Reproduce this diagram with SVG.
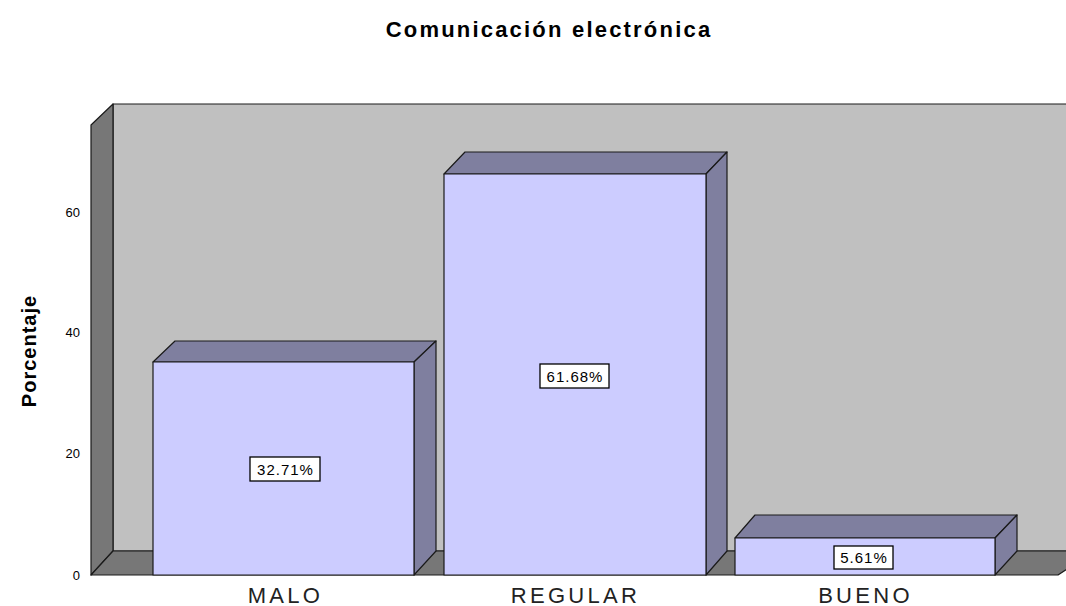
<svg xmlns="http://www.w3.org/2000/svg" width="1066" height="606" viewBox="0 0 1066 606">
<style>
.edge{stroke:#1a1a1a;stroke-width:1.2;stroke-linejoin:round}
.wall{fill:#c0c0c0}
.dark{fill:#777777}
.front{fill:#ccccff}
.shade{fill:#7f7f9f}
.tick{font-family:"Liberation Sans",Arial,sans-serif;font-size:13px;fill:#000}
.cat{font-family:"Liberation Sans",Arial,sans-serif;font-size:22px;letter-spacing:3.3px;fill:#222}
.val{font-family:"Liberation Sans",Arial,sans-serif;font-size:15px;letter-spacing:1px;fill:#000}
.box{fill:#fff;stroke:#000;stroke-width:1.3}
</style>
<rect width="1066" height="606" fill="#fff"/>
<text x="549" y="37" text-anchor="middle" font-family="Liberation Sans,Arial,sans-serif" font-weight="bold" font-size="22" letter-spacing="2.2" fill="#000">Comunicación electrónica</text>
<g id="frame">
<polygon class="wall edge" points="113,104 1070,104 1070,551 113,551"/>
<polygon class="dark edge" points="91,125 113,104 113,551 91,575"/>
<polygon class="dark edge" points="91,575 113,551 1070,551 1070,567 1058,575"/>
</g>
<g id="axis">
<text class="tick" x="80" y="217" text-anchor="end">60</text>
<text class="tick" x="80" y="337" text-anchor="end">40</text>
<text class="tick" x="80" y="458" text-anchor="end">20</text>
<text class="tick" x="80" y="580" text-anchor="end">0</text>
<text transform="translate(36,351) rotate(-90)" text-anchor="middle" font-family="Liberation Sans,Arial,sans-serif" font-weight="bold" font-size="20" letter-spacing="1" fill="#000">Porcentaje</text>
</g>
<g id="bar-malo">
<polygon class="shade edge" points="153,362 175,341 436,341 414,362"/>
<polygon class="shade edge" points="414,362 436,341 436,551 414,575"/>
<rect class="front edge" x="153" y="362" width="261" height="213"/>
<rect class="box" x="250" y="457" width="70" height="24"/>
<text class="val" x="285.500" y="474.500" text-anchor="middle">32.71%</text>
<text class="cat" x="285.500" y="603" text-anchor="middle">MALO</text>
</g>
<g id="bar-regular">
<polygon class="shade edge" points="444,174 465,152 727,152 706,174"/>
<polygon class="shade edge" points="706,174 727,152 727,551 706,575"/>
<rect class="front edge" x="444" y="174" width="262" height="401"/>
<rect class="box" x="540" y="364" width="69" height="24"/>
<text class="val" x="575" y="381.500" text-anchor="middle">61.68%</text>
<text class="cat" x="575.500" y="603" text-anchor="middle">REGULAR</text>
</g>
<g id="bar-bueno">
<polygon class="shade edge" points="735,538 755,515 1017,515 995,538"/>
<polygon class="shade edge" points="995,538 1017,515 1017,551 995,575"/>
<rect class="front edge" x="735" y="538" width="260" height="37"/>
<rect class="box" x="834" y="546" width="59" height="23"/>
<text class="val" x="864" y="562.500" text-anchor="middle">5.61%</text>
<text class="cat" x="865.500" y="603" text-anchor="middle">BUENO</text>
</g>
</svg>
